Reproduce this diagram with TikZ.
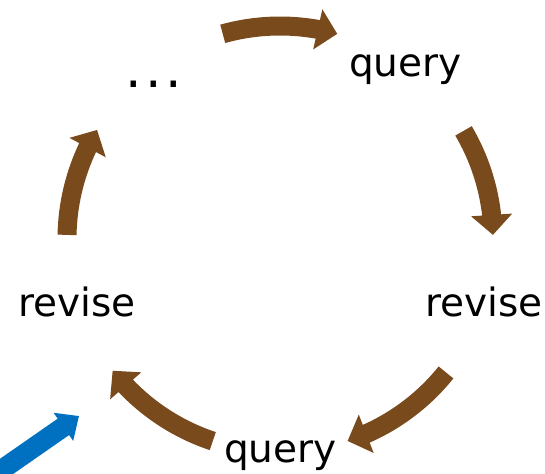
\documentclass[tikz,border=0pt]{standalone}
\usepackage{fontspec}
\setmainfont{DejaVu Sans}
\usetikzlibrary{arrows.meta,bending,calc}
\definecolor{cyclebrown}{RGB}{120,74,28}
\definecolor{startblue}{RGB}{0,112,192}
\tikzset{
  lbl/.style={anchor=base, inner sep=0pt, font=\fontsize{39}{47}\selectfont},
  cyclearrow/.style={line width=19pt, color=cyclebrown, -{Triangle[width=40pt,length=20pt]}},
  startarrow/.style={line width=20pt, color=startblue, -{Triangle[width=33pt,length=19pt]}}
}

\begin{document}
\begin{tikzpicture}[x=1pt,y=1pt]
			%%%%% FRAME %%%%%
			\clip (0,0) rectangle (545,473);
			
			\coordinate (ctr) at (280,234);
			
			%%%%% LABELS %%%%%
			\node[lbl] (qtop) at (405.5,396) {query};
			\node[lbl, font=\fontsize{52}{60}\selectfont] (dots) at (153.5,385) {.\hspace{3.5pt}.\hspace{3.5pt}.};
			\node[lbl] (rright) at (484,156) {revise};
			\node[lbl] (qbot) at (280.5,11) {query};
			\node[lbl] (rleft) at (77,156) {revise};
			
			%%%%% CYCLE %%%%%
			\foreach \a/\b in {105.6/74.4, 30.5/1.1, -38.8/-71.5, -108.4/-141.8, 178.9/149.2}
				\draw[cyclearrow] ($(ctr)+(\a:213)$) arc[start angle=\a, end angle=\b, radius=213];
			
			%%%%% ENTRY %%%%%
			\coordinate (bluestart) at (-36,-23);
			\coordinate (bluetip) at (79,57);
			\draw[startarrow] (bluestart) -- (bluetip);
			
\end{tikzpicture}
\end{document}
